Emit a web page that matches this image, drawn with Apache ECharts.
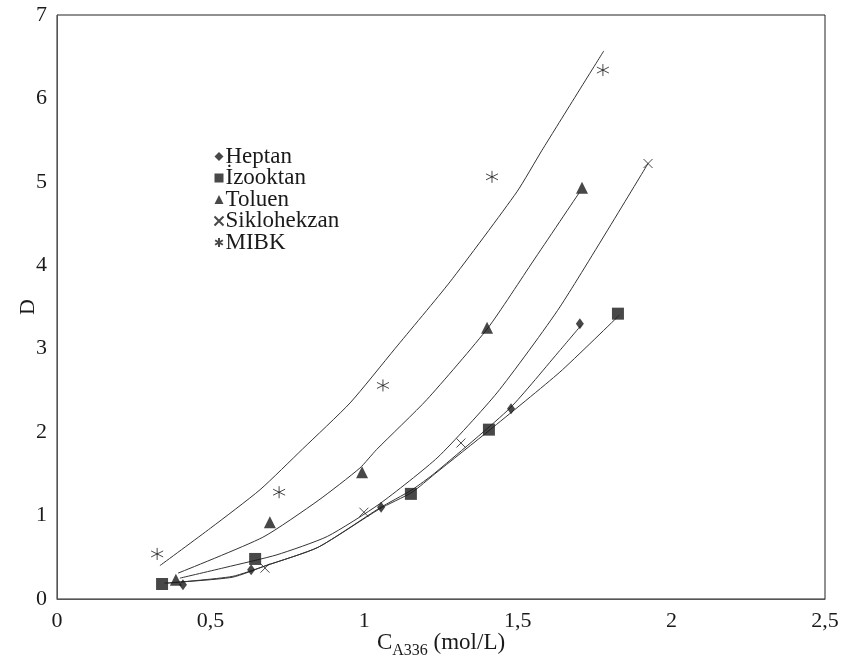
<!DOCTYPE html>
<html>
<head>
<meta charset="utf-8">
<script src="https://cdn.jsdelivr.net/npm/echarts@6/dist/echarts.min.js"></script>
<style>
  html, body { margin: 0; padding: 0; background: #fff; }
  #main { width: 846px; height: 666px; }
</style>
</head>
<body>
<div id="main"></div>
<script>
// measured points (C_A336, D)
const heptan = [[0.41, 0.17], [0.632, 0.35], [1.055, 1.10], [1.478, 2.28], [1.702, 3.30]];
const izooktan = [[0.342, 0.18], [0.645, 0.48], [1.152, 1.26], [1.406, 2.03], [1.826, 3.42]];
const toluen = [[0.387, 0.23], [0.693, 0.92], [0.993, 1.52], [1.40, 3.25], [1.709, 4.93]];
const siklohekzan = [[0.677, 0.37], [0.999, 1.04], [1.315, 1.87], [1.924, 5.22]];
const mibk = [[0.326, 0.54], [0.723, 1.28], [1.061, 2.56], [1.416, 5.06], [1.777, 6.34]];

// fitted curves
const heptanFit = [[0.36, 0.19], [0.57, 0.27], [0.68, 0.40], [0.85, 0.62], [1.05, 1.09], [1.156, 1.31], [1.23, 1.51], [1.475, 2.29], [1.637, 2.98], [1.706, 3.28]];
const izooktanFit = [[0.35, 0.19], [0.57, 0.26], [0.68, 0.40], [0.85, 0.62], [1.05, 1.08], [1.156, 1.28], [1.23, 1.50], [1.41, 2.03], [1.637, 2.72], [1.83, 3.40]];
const toluenFit = [[0.394, 0.31], [0.67, 0.74], [0.85, 1.18], [0.986, 1.57], [1.04, 1.79], [1.204, 2.39], [1.403, 3.25], [1.55, 4.05], [1.70, 4.87]];
const siklohekzanFit = [[0.40, 0.25], [0.55, 0.38], [0.716, 0.53], [0.88, 0.75], [1.05, 1.14], [1.24, 1.70], [1.432, 2.47], [1.637, 3.50], [1.924, 5.22]];
const mibkFit = [[0.335, 0.40], [0.5, 0.85], [0.661, 1.31], [0.8, 1.8], [0.954, 2.35], [1.1, 3.0], [1.279, 3.8], [1.497, 4.88], [1.579, 5.38], [1.78, 6.57]];

const xTicks = ['0', '0,5', '1', '1,5', '2', '2,5'];

const serif = 'Liberation Serif';
const ink = '#1a1a1a';
const crossPath = 'path://M0,0L10,10M10,0L0,10';
const starPath = 'path://M5,0L5,10M0.7,2.5L9.3,7.5M9.3,2.5L0.7,7.5';

const myChart = echarts.init(document.getElementById('main'));

function fitLine(data) {
  return {
    type: 'line',
    data: data,
    showSymbol: false,
    smooth: 0.2,
    silent: true,
    lineStyle: { color: '#333', width: 1 },
    z: 1
  };
}

myChart.setOption({
  animation: false,
  grid: {
    left: 57, top: 15, right: 21, bottom: 67,
    outerBoundsMode: 'none',
    containLabel: false,
    show: true, borderColor: '#222', borderWidth: 1
  },
  legend: {
    orient: 'vertical',
    left: 207,
    top: 140,
    itemGap: -1.5,
    itemWidth: 9,
    itemHeight: 9,
    textStyle: { fontFamily: serif, fontSize: 23, color: ink, padding: [0, 0, 0, -3] },
    data: ['Heptan', 'İzooktan', 'Toluen', 'Siklohekzan', 'MIBK']
  },
  xAxis: {
    type: 'value',
    min: 0, max: 2.5, interval: 0.5,
    splitLine: { show: false },
    axisTick: { show: false },
    axisLine: { lineStyle: { color: '#555', width: 1 } },
    axisLabel: {
      fontFamily: serif, fontSize: 22, color: ink, margin: 11,
      formatter: function (v) { return xTicks[Math.round(v / 0.5)]; }
    },
    name: '{a|C}{b|A336}{a| (mol/L)}',
    nameLocation: 'middle',
    nameMoveOverlap: false,
    nameGap: 32,
    nameTextStyle: {
      rich: {
        a: { fontFamily: serif, fontSize: 23, color: ink, lineHeight: 26, verticalAlign: 'top' },
        b: { fontFamily: serif, fontSize: 16, color: ink, lineHeight: 26, verticalAlign: 'top', padding: [12, 0, 0, 0] }
      }
    }
  },
  yAxis: {
    type: 'value',
    min: 0, max: 7, interval: 1,
    splitLine: { show: false },
    axisTick: { show: false },
    axisLine: { lineStyle: { color: '#555', width: 1 } },
    axisLabel: { fontFamily: serif, fontSize: 22, color: ink, margin: 10 },
    name: 'D',
    nameLocation: 'middle',
    nameMoveOverlap: false,
    nameGap: 18,
    nameTextStyle: { fontFamily: serif, fontSize: 22, color: ink }
  },
  series: [
    fitLine(heptanFit),
    fitLine(izooktanFit),
    fitLine(toluenFit),
    fitLine(siklohekzanFit),
    fitLine(mibkFit),
    {
      name: 'Heptan', type: 'scatter', data: heptan,
      symbol: 'diamond', symbolSize: [8, 11],
      itemStyle: { color: ink }, z: 3
    },
    {
      name: 'İzooktan', type: 'scatter', data: izooktan,
      symbol: 'rect', symbolSize: 12,
      itemStyle: { color: ink }, z: 3
    },
    {
      name: 'Toluen', type: 'scatter', data: toluen,
      symbol: 'triangle', symbolSize: [12, 12],
      itemStyle: { color: ink }, z: 3
    },
    {
      name: 'Siklohekzan', type: 'scatter', data: siklohekzan,
      symbol: crossPath, symbolSize: 9,
      itemStyle: { color: 'none', borderColor: ink, borderWidth: 1 }, z: 3
    },
    {
      name: 'MIBK', type: 'scatter', data: mibk,
      symbol: starPath, symbolSize: 12,
      itemStyle: { color: 'none', borderColor: ink, borderWidth: 1 }, z: 3
    }
  ]
});
</script>
</body>
</html>
